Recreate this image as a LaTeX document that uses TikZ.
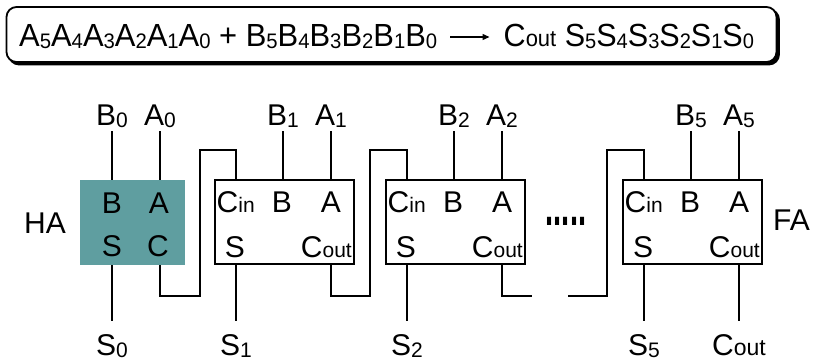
\documentclass[tikz,border=0pt]{standalone}
\usepackage{fontspec}
\setmainfont{Liberation Sans}
\usetikzlibrary{shadows,arrows.meta}
\definecolor{hafill}{HTML}{5F9EA0}
% label fonts
\newcommand\bigfont{\fontsize{30}{36}\selectfont}
\newcommand\eqfont{\fontsize{32}{38}\selectfont}
\newcommand\dn[1]{\raisebox{-2pt}{\fontsize{21}{21}\selectfont #1}}
\newcommand\eqdn[1]{\raisebox{-1.5pt}{\fontsize{21}{21}\selectfont #1}}
\newcommand\sm[1]{{\fontsize{21}{21}\selectfont #1}}
\newcommand\smb[1]{{\fontsize{23}{23}\selectfont #1}}

\begin{document}
\begin{tikzpicture}[x=1pt,y=-1pt,
  wire/.style={line width=1.4pt},
  lbl/.style={font=\bigfont, inner sep=0pt},
  toplbl/.style={font=\bigfont, anchor=base, inner xsep=0pt, inner ysep=4pt},
  botlbl/.style={font=\bigfont, anchor=north, inner xsep=0pt, inner ysep=13pt},
  fabox/.style={draw, line width=1.4pt, minimum width=139pt, minimum height=84pt, inner sep=0pt},
  habox/.style={fill=hafill, minimum width=105pt, minimum height=85pt, inner sep=0pt},
  eqbox/.style={draw, line width=1.8pt, rounded corners=10pt, fill=white,
    minimum width=770pt, minimum height=55pt, inner sep=0pt,
    general shadow={fill=black, draw=black, shadow xshift=2.5pt, shadow yshift=-2.5pt}},
  eqtext/.style={font=\eqfont, anchor=base west, inner sep=0pt},
]
\useasboundingbox (0,0) rectangle (814,361);

% equation banner
\node[eqbox] (eq) at (391.5,34.5) {};
\node[eqtext] (lhs) at (19,47)
  {\scalebox{0.966}[1]{A\eqdn5A\eqdn4A\eqdn3A\eqdn2A\eqdn1A\eqdn0 + B\eqdn5B\eqdn4B\eqdn3B\eqdn2B\eqdn1B\eqdn0}};
\node[eqtext] (rhs) at (503.5,47)
  {\scalebox{0.955}[1]{C\smb{out} S\eqdn5S\eqdn4S\eqdn3S\eqdn2S\eqdn1S\eqdn0}};
\draw[line width=1.3pt, -{Triangle[length=7pt,width=6pt]}]
  ([shift={(13,-10)}]lhs.base east) -- ([shift={(-14,-10)}]rhs.base west);

% half adder
\node[habox] (ha) at (132.5,222.5) {};
\node[lbl, anchor=base] (haB) at (112,213) {B};
\node[lbl, anchor=base] (haA) at (159,213) {A};
\node[lbl, anchor=base] (haS) at (112,256) {S};
\node[lbl, anchor=base] (haC) at (158,256) {C};
\node[lbl, anchor=base] (halabel) at (45,233) {HA};

% full adders
\foreach \n/\L in {1/215, 2/386, 5/623} {
  \node[fabox] (fa\n) at (\L+69.5,222) {};
  \node[lbl, anchor=base west] (fa\n-cin) at (\L+1.5,212) {C\sm{in}};
  \node[lbl, anchor=base] (fa\n-b) at (\L+67,212) {B};
  \node[lbl, anchor=base] (fa\n-a) at (\L+116,212) {A};
  \node[lbl, anchor=base] (fa\n-s) at (\L+20,257) {S};
  \node[lbl, anchor=base east] (fa\n-cout) at (\L+137,257) {C\sm{out}};
}
\node[lbl, anchor=base west] (falabel) at (773,230) {FA};

% input labels
\node[toplbl] (b0) at (112,125) {B\dn0};
\node[toplbl] (a0) at (160,125) {A\dn0};
\node[toplbl] (b1) at (283,125) {B\dn1};
\node[toplbl] (a1) at (331,125) {A\dn1};
\node[toplbl] (b2) at (454,125) {B\dn2};
\node[toplbl] (a2) at (502,125) {A\dn2};
\node[toplbl] (b5) at (691,125) {B\dn5};
\node[toplbl] (a5) at (739,125) {A\dn5};

% output labels
\node[botlbl] (s0) at (112,321) {S\dn0};
\node[botlbl] (s1) at (236,321) {S\dn1};
\node[botlbl] (s2) at (407,321) {S\dn2};
\node[botlbl] (s5) at (644,321) {S\dn5};
\node[botlbl] (cout) at (739,321) {C\smb{out}};

% gap in the chain
\node[anchor=base, inner sep=0pt] (dots) at (566,225)
  {\scalebox{1}[1.9]{\fontsize{29}{29}\selectfont\bfseries .....}};

% inputs
\foreach \l/\blk in {b0/ha, a0/ha, b1/fa1, a1/fa1, b2/fa2, a2/fa2, b5/fa5, a5/fa5}
  \draw[wire] (\l.south) -- (\l.south |- \blk.north);
% sum outputs
\foreach \l/\blk in {s0/ha, s1/fa1, s2/fa2, s5/fa5}
  \draw[wire] (\blk.south -| \l) -- (\l.north);
\draw[wire] (fa5.south -| cout) -- (cout.north);

% carry chain
\coordinate (k1lo) at (200,296); \coordinate (k1hi) at (200,150);
\coordinate (k2lo) at (370,296); \coordinate (k2hi) at (370,150);
\coordinate (e2) at (532,296);
\coordinate (e5) at (568,296);
\coordinate (k5lo) at (607,296); \coordinate (k5hi) at (607,150);
\draw[wire] (ha.south -| a0) |- (k1lo) -- (k1hi) -| (fa1.north -| s1);
\draw[wire] (fa1.south -| a1) |- (k2lo) -- (k2hi) -| (fa2.north -| s2);
\draw[wire] (fa2.south -| a2) |- (e2);
\draw[wire] (e5) -- (k5lo) -- (k5hi) -| (fa5.north -| s5);
\end{tikzpicture}
\end{document}
